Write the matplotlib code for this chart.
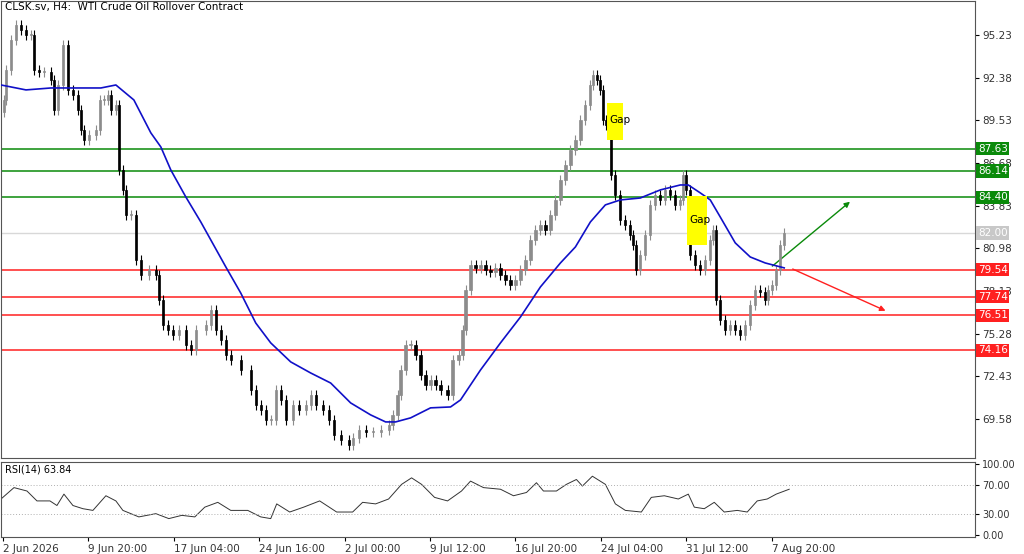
import numpy as np
import matplotlib
matplotlib.use("Agg")
import matplotlib.pyplot as plt
from matplotlib.patches import Rectangle

# ---- data ----
bar_t = [3, 5, 10, 15, 20, 25, 30, 33, 38, 43, 50, 53, 57, 62, 67, 72, 77, 80, 83, 88,
         95, 99, 103, 107, 110, 115, 118, 122, 125, 130, 135, 140, 148, 155, 158, 162,
         167, 172, 178, 185, 190, 195, 205, 210, 215, 220, 225, 230, 240, 250, 255, 260,
         265, 270, 275, 280, 285, 292, 298, 305, 310, 315, 322, 328, 333, 340, 348, 352,
         358, 365, 372, 380, 388, 392, 397, 400, 405, 410, 415, 420, 425, 430, 435, 440,
         447, 452, 458, 462, 465, 470, 475, 480, 485, 490, 495, 500, 505, 510, 515, 520,
         525, 530, 535, 540, 545, 550, 555, 560, 565, 570, 575, 580, 585, 590, 593, 597,
         600, 603, 606, 608, 611, 615, 620, 625, 630, 633, 636, 640, 645, 650, 655, 660,
         665, 670, 675, 680, 683, 686, 690, 695, 700, 705, 710, 713, 716, 720, 725, 730,
         735, 740, 745, 750, 755, 760, 765, 768, 772, 776, 780, 784]
closes = [90.89, 92.89, 94.90, 95.90, 95.57, 95.23, 95.23, 92.89, 92.76, 92.76,
          92.23, 90.22, 91.89, 94.56, 91.56, 91.22, 90.22, 88.89, 88.22, 88.55,
          88.89, 90.89, 90.89, 91.22, 90.22, 90.56, 86.21, 84.88, 83.21, 83.21,
          80.20, 79.20, 79.53, 79.20, 77.53, 75.86, 75.53, 75.19, 75.53, 74.52,
          74.19, 75.53, 75.86, 76.86, 75.53, 74.86, 73.86, 73.52, 72.85, 71.52,
          70.52, 70.18, 69.51, 69.51, 71.52, 70.85, 69.51, 70.52, 70.18, 70.52,
          71.18, 70.52, 70.18, 69.51, 68.51, 68.18, 67.84, 68.31, 68.85, 68.71,
          68.71, 68.85, 69.18, 69.85, 71.18, 72.85, 74.52, 74.52, 73.86, 72.52,
          71.85, 72.19, 71.85, 71.52, 71.18, 73.52, 73.86, 75.53, 78.20, 79.87,
          79.67, 79.87, 79.53, 79.40, 79.67, 79.20, 78.87, 78.53, 78.87, 79.53,
          80.20, 81.54, 82.21, 82.54, 82.21, 83.21, 84.21, 85.55, 86.55, 87.55,
          88.22, 89.55, 90.56, 91.89, 92.56, 92.23, 91.56, 89.55, 89.22, 90.36,
          85.88, 84.54, 82.87, 82.54, 81.87, 81.20, 79.53, 80.54, 81.87, 83.88,
          84.54, 84.21, 84.88, 84.54, 83.88, 84.21, 85.88, 84.88, 80.54, 79.87,
          79.53, 80.20, 81.54, 82.21, 77.53, 76.19, 75.53, 75.86, 75.53, 75.19,
          75.86, 77.20, 78.20, 78.06, 77.53, 78.20, 78.53, 79.53, 81.20, 82.00]
first_open = 90.10

ma_t = [0, 25, 50, 75, 100, 115, 133, 150, 160, 170, 185, 200, 210, 225, 240,
        255, 270, 290, 310, 330, 350, 370, 385, 395, 410, 430, 450, 460, 480,
        500, 520, 540, 560, 575, 590, 605, 620, 640, 660, 680, 688, 700, 710,
        720, 735, 750, 765, 784]
ma_val = [91.89, 91.56, 91.69, 91.69, 91.69, 91.89, 90.89, 88.69, 87.75, 86.21,
          84.41, 82.74, 81.54, 79.74, 77.99, 75.99, 74.66, 73.39, 72.65, 71.98,
          70.65, 69.85, 69.38, 69.38, 69.65, 70.32, 70.38, 70.85, 72.85, 74.66,
          76.39, 78.40, 80.00, 81.07, 82.74, 83.88, 84.21, 84.34, 84.88, 85.21,
          85.21, 84.68, 84.21, 83.07, 81.34, 80.40, 80.00, 79.67]

rsi_t = [0, 13, 26, 36, 49, 56, 63, 72, 82, 92, 105, 115, 122, 138, 155, 168,
         181, 194, 204, 217, 230, 247, 260, 270, 276, 289, 303, 319, 336, 352,
         362, 375, 388, 401, 411, 421, 434, 447, 461, 470, 483, 500, 513, 526,
         536, 543, 556, 566, 576, 582, 592, 605, 615, 625, 641, 651, 664, 678,
         688, 694, 704, 714, 724, 737, 747, 757, 767, 776, 789]
rsi_val = [50.7, 66.8, 62.0, 48.0, 48.0, 41.5, 57.6, 41.5, 37.0, 34.6, 55.3, 48.0,
           34.6, 25.4, 30.0, 23.0, 27.6, 25.4, 39.2, 46.0, 34.6, 34.6, 25.4, 23.0,
           43.8, 32.3, 39.2, 48.0, 32.3, 32.3, 46.0, 43.8, 50.7, 71.4, 80.6, 71.4,
           53.0, 48.0, 62.0, 76.0, 66.8, 64.5, 55.3, 59.9, 73.7, 62.0, 62.0, 71.4,
           78.3, 69.0, 82.9, 71.4, 43.8, 34.6, 32.3, 53.0, 55.3, 50.7, 57.6, 39.2,
           37.0, 46.0, 32.3, 34.6, 32.3, 48.0, 50.7, 57.6, 64.5]

green_levels = [87.63, 86.14, 84.40]
red_levels = [79.54, 77.74, 76.51, 74.16]
last_price = 82.00
price_ticks = [95.23, 92.38, 89.53, 86.68, 83.83, 80.98, 78.13, 75.28, 72.43, 69.58]
date_labels = ["2 Jun 2026", "9 Jun 20:00", "17 Jun 04:00", "24 Jun 16:00", "2 Jul 00:00",
               "9 Jul 12:00", "16 Jul 20:00", "24 Jul 04:00", "31 Jul 12:00", "7 Aug 20:00"]

# ---- figure ----
W, H = 1024, 554
fig = plt.figure(figsize=(W / 100, H / 100), dpi=100)
ax = fig.add_axes([1 / W, (H - 458) / H, 974 / W, 457 / H])
rax = fig.add_axes([1 / W, (H - 537) / H, 974 / W, 75 / H])
XMAX = 975

opens = [first_open] + closes[:-1]
w = 2.2
for ti, o, c in zip(bar_t, opens, closes):
    col = "#8c8c8c" if c >= o else "black"
    hi, lo = max(o, c) + 0.35, min(o, c) - 0.35
    ax.vlines(ti, lo, hi, color=col, lw=0.8, zorder=3)
    ax.add_patch(Rectangle((ti - w / 2, min(o, c)), w, max(abs(c - o), 0.04),
                           facecolor=col, edgecolor=col, lw=0.5, zorder=4))

ax.plot(ma_t, ma_val, color="#1010c8", lw=1.2, zorder=5)

for lv in green_levels:
    ax.axhline(lv, color="#0a8a0a", lw=1.1, zorder=2)
for lv in red_levels:
    ax.axhline(lv, color="#ff2020", lw=1.1, zorder=2)
ax.axhline(last_price, color="#d8d8d8", lw=1.0, zorder=1)

# gap boxes
ax.add_patch(Rectangle((607, 88.22), 16, 2.47, facecolor="yellow", edgecolor="none", zorder=6))
ax.text(609, 89.55, "Gap", fontsize=7.5, va="center", zorder=7)
ax.add_patch(Rectangle((687, 81.20), 20, 3.28, facecolor="yellow", edgecolor="none", zorder=6))
ax.text(689, 82.9, "Gap", fontsize=7.5, va="center", zorder=7)

# arrows
ax.annotate("", xy=(852, 84.21), xytext=(770, 79.67),
            arrowprops=dict(arrowstyle="-|>", color="#0a8a0a", lw=1.0, mutation_scale=8))
ax.annotate("", xy=(888, 76.73), xytext=(790, 79.67),
            arrowprops=dict(arrowstyle="-|>", color="#ff2020", lw=1.0, mutation_scale=8))

ax.set_xlim(0, XMAX)
ax.set_ylim(66.97, 97.50)
ax.yaxis.tick_right()
ax.set_yticks(price_ticks)
ax.set_yticklabels([f"{v:.2f}" for v in price_ticks], fontsize=7.5, color="#333333")
ax.tick_params(axis="y", length=3, pad=2)
ax.set_xticks([])
for lv, col in [(v, "#0a8a0a") for v in green_levels] + [(v, "#ff2020") for v in red_levels] + [(last_price, "#c8c8c8")]:
    ax.text(1.003, lv, f"{lv:.2f}", transform=ax.get_yaxis_transform(), fontsize=7.5,
            color="white", va="center", ha="left", zorder=10,
            bbox=dict(boxstyle="square,pad=0.15", facecolor=col, edgecolor="none"))
ax.text(0.004, 0.997, "CLSK.sv, H4:  WTI Crude Oil Rollover Contract", transform=ax.transAxes,
        fontsize=7.5, va="top", ha="left")

# RSI panel
rax.plot(rsi_t, rsi_val, color="#333333", lw=0.7)
for lv in (70, 30):
    rax.axhline(lv, color="#b0b0b0", lw=0.7, ls=(0, (1, 2)))
rax.set_xlim(0, XMAX)
rax.set_ylim(-3, 103)
rax.yaxis.tick_right()
rax.set_yticks([100, 70, 30, 0])
rax.set_yticklabels(["100.00", "70.00", "30.00", "0.00"], fontsize=7, color="#333333")
rax.tick_params(axis="y", length=3, pad=2)
tick_pos = [2 + 85.5 * k for k in range(len(date_labels))]
rax.set_xticks(tick_pos)
rax.set_xticklabels(date_labels, fontsize=7.5, ha="left", color="#333333")
rax.tick_params(axis="x", length=3, pad=2)
rax.text(0.004, 0.97, "RSI(14) 63.84", transform=rax.transAxes, fontsize=7, va="top")

for a in (ax, rax):
    for s in a.spines.values():
        s.set_color("#555555")
        s.set_linewidth(0.8)

fig.savefig("out.png", dpi=100)
